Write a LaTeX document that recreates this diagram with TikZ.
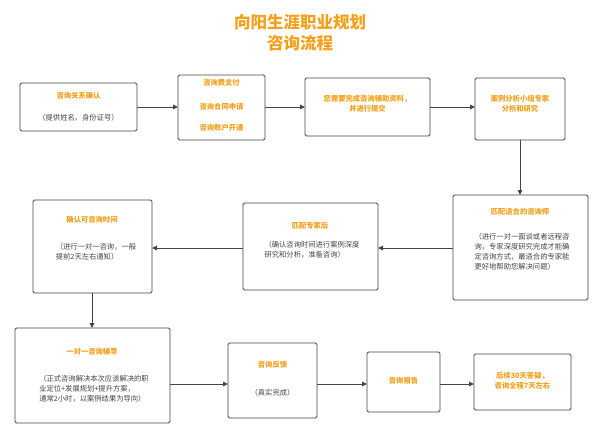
\documentclass[tikz,border=0pt]{standalone}
\usepackage{fontspec}
\setmainfont{Noto Sans CJK SC}
\usetikzlibrary{arrows.meta}
\definecolor{org}{HTML}{F5A01A}
\definecolor{gr}{HTML}{444444}
\begin{document}
\begin{tikzpicture}[x=1pt,y=-1pt,
 box/.style={draw=gr,line width=0.9pt,rounded corners=1.5pt,fill=white},
 o/.style={text=org,font=\fontsize{7.3}{10}\selectfont\bfseries,align=center},
 g/.style={text=gr,font=\fontsize{7.3}{10}\selectfont,align=center},
 arr/.style={draw=gr,line width=0.9pt,-{Triangle[length=5pt,width=4.5pt]}}]
\useasboundingbox[fill=white] (0,0) rectangle (600,436);
\node[text=org,font=\fontsize{16.5}{21}\selectfont\bfseries,align=center] (t) at (300,33) {向阳生涯职业规划\\咨询流程};
% row 1
\draw[box] (20,83) rectangle (137,131);
\node[o] at (78.5,96) {咨询关系确认};
\node[g] at (78.5,118) {（提供姓名、身份证号）};
\draw[box] (178,75) rectangle (265,140);
\node[o] at (221.5,83) {咨询费支付};
\node[o] at (221.5,107) {咨询合同申请};
\node[o] at (221.5,128) {咨询账户开通};
\draw[box] (305,78) rectangle (430,136);
\node[o] (b3) at (367.5,104) {您需要完成咨询辅助资料，\\并进行提交};
\draw[box] (475,78) rectangle (565,140);
\node[o] (b4) at (520,104) {案例分析小组专家\\分析和研究};
\draw[arr] (137,107) -- (178,107);
\draw[arr] (265,107) -- (305,107);
\draw[arr] (430,107) -- (475,107);
\draw[arr] (520,140) -- (520,195);
% row 2
\draw[box] (453,195) rectangle (588,300);
\node[o] at (520,212) {匹配适合的咨询师};
\node[g,align=left] at (522,252) {（进行一对一面谈或者远程咨\\询，专家深度研究完成才能确\\定咨询方式，最适合的专家能\\更好地帮助您解决问题）};
\draw[box] (243,203) rectangle (378,290);
\node[o] at (310,226) {匹配专家后};
\node[g,align=left] at (312,250) {（确认咨询时间进行案例深度\\研究和分析，准备咨询）};
\draw[box] (33,200) rectangle (152,293);
\node[o] at (92,220) {确认可咨询时间};
\node[g,align=left] at (96,252) {（进行一对一咨询，一般\\提前2天左右通知）};
\draw[arr] (453,248) -- (378,248);
\draw[arr] (243,248) -- (152,248);
\draw[arr] (92,293) -- (92,328);
% row 3
\draw[box] (15,328) rectangle (170,423);
\node[o] at (92,352) {一对一咨询辅导};
\node[g,align=left] at (94,389) {（正式咨询解决本次应该解决的职\\业定位+发展规划+提升方案，\\通常2小时，以案例结果为导向）};
\draw[box] (228,343) rectangle (317,418);
\node[o] at (272.5,365) {咨询反馈};
\node[g] at (272.5,393) {（真实完成）};
\draw[box] (367,352) rectangle (440,412);
\node[o] at (403.5,381) {咨询报告};
\draw[box] (474,354) rectangle (571,410);
\node[o] at (522.5,381) {后续30天答疑，\\咨询全程7天左右};
\draw[arr] (170,384) -- (228,384);
\draw[arr] (317,384) -- (367,384);
\draw[arr] (440,384) -- (474,384);
\end{tikzpicture}
\end{document}
